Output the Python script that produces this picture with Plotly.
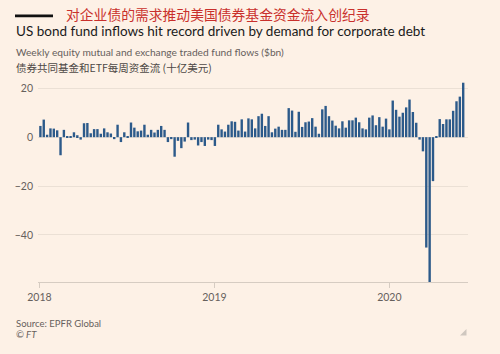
import pandas as pd
import plotly.graph_objects as go

# Weekly US bond fund flows ($bn), week ending Wednesday, from 2018-01-03
flows = [
    4.6, 7.2, 1.0, 3.6, 3.5, 2.8, -7.4, 3.0, 0.2, 0.3, 2.0, 0.8, -1.0,
    5.7, 5.8, 1.6, 3.3, 3.3, 1.4, 3.6, 2.0, 1.5, -0.8, 5.1, -2.0, 2.0,
    0.3, 6.0, 3.9, 2.4, 2.7, 5.1, 1.0, 3.0, 1.9, 3.0, 4.6, 3.0, -2.0,
    -0.8, -8.0, -1.5, -4.5, -1.8, 6.0, -1.2, -1.0, -3.4, -2.0, -3.6, -1.0, -1.2, -3.6,
    5.1, 3.2, 2.3, 5.1, 6.5, 6.3, 2.7, 7.3, 2.3, 7.7,
    7.3, 3.6, 8.6, 9.6, 4.6, 8.6, 2.0, 3.5, 4.3, 3.0, 3.0, 11.9, 10.9, 2.2,
    10.4, 4.2, 6.1, 6.4, 7.8, 4.3, 1.4, 11.4, 12.8, 8.6, 6.8, 4.7, 3.6, 6.5,
    3.9, 6.9, 6.9, 8.0, 6.1, 3.6, 3.2, 8.0, 8.9, 4.9, 8.2, 4.3, 7.6, 3.2,
    15.0, 11.2, 8.4, 10.0, 12.2, 15.4, 10.3, 5.9, -1.0, -5.8, -45.2, -59.3,
    -18.0, 0.3, 7.4, 5.4, 7.3, 7.3, 10.8, 14.7, 16.6, 22.3,
]
first_week = "2018-01-03"
weeks = pd.date_range(first_week, periods=len(flows), freq="7D")

y_ticks = [-40, -20, 0, 20]
year_ticks = ["2018-01-01", "2019-01-01", "2020-01-01"]
year_labels = ["2018", "2019", "2020"]

title_cn = "对企业债的需求推动美国债券基金资金流入创纪录"
title_en = "US bond fund inflows hit record driven by demand for corporate debt"
sub_en = "Weekly equity mutual and exchange traded fund flows ($bn)"
sub_cn = "债券共同基金和ETF每周资金流 (十亿美元)"
source = "Source: EPFR Global"
credit = "© FT"

W, H = 500, 354
L, R, T, B = 38, 468, 81, 282
BG = "#fdf1e6"
GREY = "#66605c"
LAT = "Lato, Noto Sans, sans-serif"
CJK = "Noto Sans CJK SC, sans-serif"


def px(x):
    return (x - L) / (R - L)


def py(y):
    return (B - y) / (B - T)


fig = go.Figure(
    go.Bar(
        x=weeks,
        y=flows,
        width=5 * 86400000,
        marker=dict(color="#2c5a8a", line=dict(width=0)),
        hoverinfo="x+y",
    )
)

fig.update_layout(
    width=W,
    height=H,
    margin=dict(l=L, r=W - R, t=T, b=H - B),
    paper_bgcolor=BG,
    plot_bgcolor=BG,
    showlegend=False,
    font=dict(family=LAT, color=GREY, size=10),
    xaxis=dict(
        type="date",
        range=["2017-12-29", "2020-06-13"],
        tickvals=year_ticks,
        ticktext=year_labels,
        showgrid=False,
        showline=True,
        linecolor="#d6ccc2",
        linewidth=1,
        ticks="outside",
        ticklen=5,
        tickcolor="#d6ccc2",
        tickfont=dict(size=10.5, color=GREY, family=LAT),
        zeroline=False,
    ),
    yaxis=dict(
        range=[-59.3, 23],
        tickvals=y_ticks,
        showgrid=True,
        gridcolor="#ebe0d5",
        gridwidth=1,
        zeroline=False,
        ticks="",
        ticklabelstandoff=4,
        tickfont=dict(size=10.5, color=GREY, family=LAT),
    ),
)

fig.add_shape(type="rect", xref="paper", yref="paper",
              x0=px(15), x1=px(53), y0=py(17.2), y1=py(14.4),
              fillcolor="#111111", line=dict(width=0))
fig.add_shape(type="path", xref="paper", yref="paper",
              path=f"M {px(460)} {py(335.5)} L {px(466.5)} {py(335.5)} L {px(466.5)} {py(329)} Z",
              fillcolor="#cfc7bf", line=dict(width=0))

ann = [
    (title_cn, 64, 14.5, dict(family=CJK, size=13.8, color="#c9302c")),
    (title_en, 14, 31, dict(family=LAT, size=13.5, color="#1a1a1a")),
    (sub_en, 14, 52, dict(family=LAT, size=10.2, color=GREY)),
    (sub_cn, 14, 67.5, dict(family=CJK, size=10.5, color="#4d4845")),
    (source, 14, 323, dict(family=LAT, size=9.5, color=GREY)),
    ("<i>" + credit + "</i>", 14, 334.5, dict(family=LAT, size=9.5, color=GREY)),
]
for text, x, y, f in ann:
    fig.add_annotation(text=text, xref="paper", yref="paper", x=px(x), y=py(y),
                       xanchor="left", yanchor="middle", showarrow=False, font=f)

fig.write_html("out.html")
